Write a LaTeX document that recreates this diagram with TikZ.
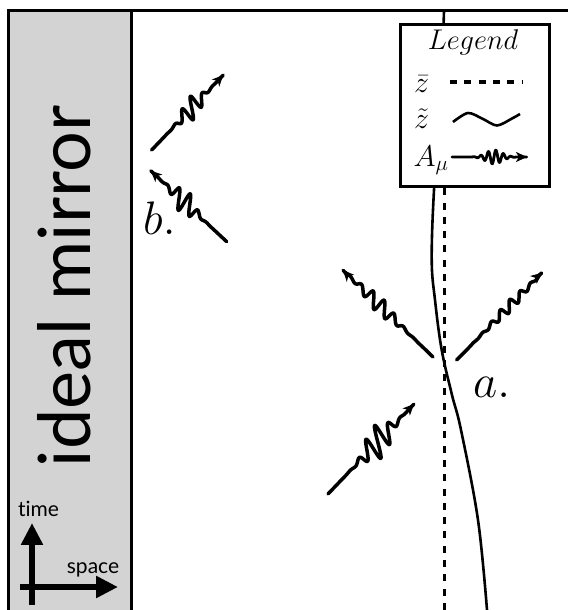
\RequirePackage{fix-cm}
\documentclass[tikz,border=0pt]{standalone}
\usepackage{fontspec}
\newfontfamily\mirrorfont[Ligatures={NoCommon,NoContextual}]{Lato}
\usetikzlibrary{arrows.meta}
\definecolor{mirrorgray}{RGB}{211,211,211}

% registers for the end points of a photon line
\newdimen\phXa \newdimen\phYa \newdimen\phXb \newdimen\phYb
\pgfkeys{/photon/.is family, /photon/.cd,
  amp/.store in=\phAmp, wavelength/.store in=\phLam,
  mid/.store in=\phMid, spread/.store in=\phSig, lean/.store in=\phLean,
  amp=10, wavelength=15, mid=60, spread=16, lean=0}

% Gaussian envelope times a sine, clipped so that exp stays in range
\pgfmathdeclarefunction{phenv}{1}{%
  \pgfmathparse{\phAmp*exp(max(-8,-((#1-\phMid)/\phSig)*((#1-\phMid)/\phSig)))*sin((#1-\phMid)*(360/\phLam))}%
}

% \photon[line style]{wave keys}{from}{to}: a wave packet travelling from one
% coordinate to another, with an arrow at the end
\newcommand\photon[4][]{%
  \begingroup
  \pgfkeys{/photon/.cd,#2}%
  \pgfextractx{\phXa}{\pgfpointanchor{#3}{center}}%
  \pgfextracty{\phYa}{\pgfpointanchor{#3}{center}}%
  \pgfextractx{\phXb}{\pgfpointanchor{#4}{center}}%
  \pgfextracty{\phYb}{\pgfpointanchor{#4}{center}}%
  \pgfmathsetmacro\phAng{atan2(\phYb-\phYa,\phXb-\phXa)}%
  \pgfmathsetmacro\phLen{veclen(\phXb-\phXa,\phYb-\phYa)}%
  \begin{scope}[shift={(#3)},rotate=\phAng]
    \draw[photon line,#1] plot[domain=0:\phLen,samples=400]
      ({\x+\phLean*phenv(\x)}, {phenv(\x)});
  \end{scope}
  \endgroup}

\begin{document}
\begin{tikzpicture}[x=1pt,y=1pt,
  frame/.style={line width=3pt, line join=miter},
  zbar/.style={line width=3.5pt, dash pattern=on 7pt off 7.3pt},
  ztilde/.style={line width=2.6pt},
  photon line/.style={line width=3.5pt, line cap=round, line join=round,
    -{Stealth[length=11pt,width=10pt,inset=3pt]}},
  axisarrow/.style={line width=5.5pt, -{Triangle[length=22pt,width=21pt]}},
  biglabel/.style={font=\fontsize{47}{50}\selectfont, inner sep=0pt},
  legendtext/.style={font=\fontsize{30}{33}\selectfont, inner sep=0pt},
  smalltext/.style={font=\mirrorfont\fontsize{21}{24}\selectfont, inner sep=0pt}]
\useasboundingbox (0,0) rectangle (568,610);

% the mirror strip and the frame
\fill[mirrorgray] (8,0) rectangle (131,599);
\draw[frame] (8,0) -- (8,599) -- (568,599);
\draw[frame] (131,0) -- (131,599);
\node[rotate=90, anchor=base, inner sep=0pt,
      font=\mirrorfont\fontsize{72}{80}\selectfont] (mirror) at (90,323.5) {ideal mirror};

% space-time axes
\coordinate (t0) at (32,5);   \coordinate (t1) at (32,87);
\coordinate (s0) at (20,23);  \coordinate (s1) at (118,23);
\draw[axisarrow] (t0) -- (t1);
\draw[axisarrow] (s0) -- (s1);
\node[smalltext, anchor=base] (time) at (38.5,93.3) {time};
\node[smalltext, anchor=base] (space) at (93,36) {space};

% classical trajectory and the fluctuating one
\draw[zbar] (444.5,0) -- (444.5,430);
\draw[ztilde] plot[smooth, tension=0.6] coordinates
  {(444,599) (440.5,510) (434,420) (431.7,350) (435,310) (441.7,260)
   (452,215) (461,180) (478,90) (487,0)};

% legend
\draw[frame, fill=white] (400.6,423.5) rectangle (549.5,585.5);
\node[font=\fontsize{28.5}{31}\selectfont, inner sep=0pt, anchor=base] (legtitle) at (473,560) {$Legend$};
\node[legendtext, anchor=base] (legzbar) at (421.5,517) {$\bar z$};
\node[legendtext, anchor=base] (legztilde) at (421.5,481) {$\tilde z$};
\node[legendtext, anchor=base] (legA) at (431,443.5) {$A_\mu$};
\draw[zbar] (450,528) -- (522,528);
\draw[ztilde] plot[smooth] coordinates
  {(453,488) (468,497) (483,491) (497,484.5) (512,491.5) (520,496)};
\coordinate (lp0) at (452,453); \coordinate (lp1) at (527,453);
\photon[line width=2.8pt]{amp=7, wavelength=7.5, mid=42, spread=11, lean=0}{lp0}{lp1}

% scattering off the particle
\coordinate (ai0) at (328,116);   \coordinate (ai1) at (414,206);
\coordinate (al0) at (433,253);   \coordinate (al1) at (343,340);
\coordinate (ar0) at (456.7,250); \coordinate (ar1) at (542,337);
\photon{amp=14, wavelength=15, mid=72, spread=20, lean=0.45}{ai0}{ai1}
\photon{amp=7, wavelength=15, mid=75, spread=26, lean=-0.45}{al0}{al1}
\photon{amp=4.5, wavelength=14, mid=75, spread=28, lean=0.4}{ar0}{ar1}
\node[biglabel, anchor=base west] (alabel) at (473,212) {$a.$};

% reflection at the mirror
\coordinate (bi0) at (226.7,368.3); \coordinate (bi1) at (150.7,439.3);
\coordinate (bo0) at (151.7,460);   \coordinate (bo1) at (223.3,535);
\photon{amp=10.5, wavelength=14, mid=58, spread=16, lean=-0.45}{bi0}{bi1}
\photon{amp=9.5, wavelength=14, mid=58, spread=16, lean=0.45}{bo0}{bo1}
\node[biglabel, anchor=base west] (blabel) at (143,375) {$b.$};
\end{tikzpicture}
\end{document}
